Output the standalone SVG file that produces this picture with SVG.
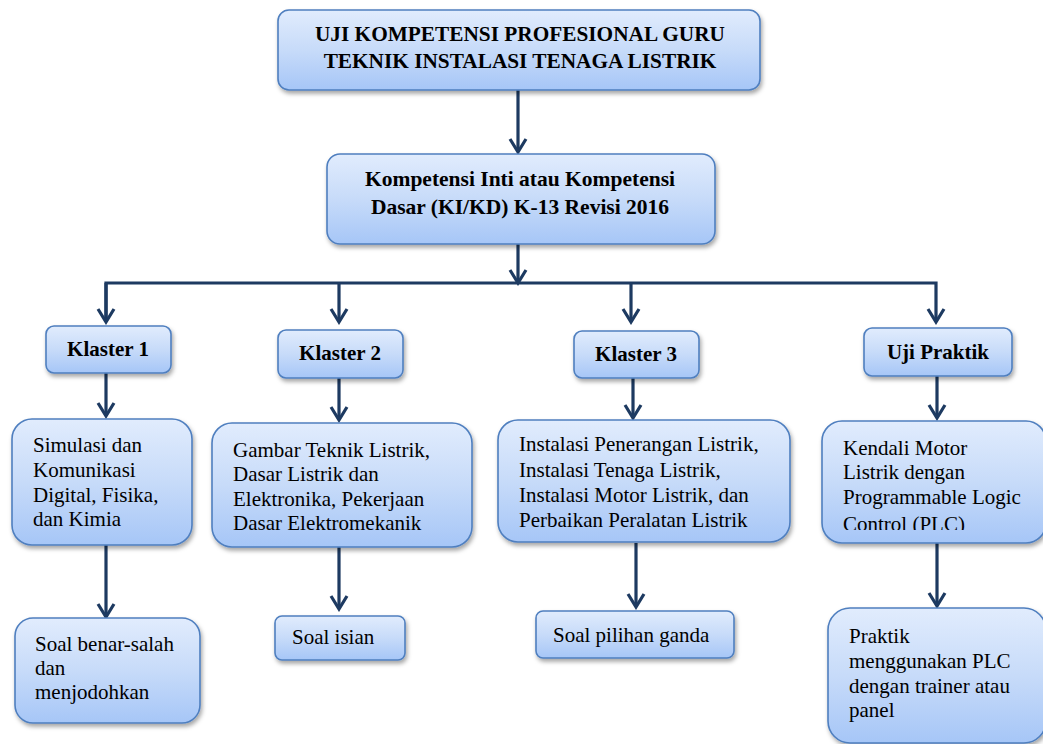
<svg xmlns="http://www.w3.org/2000/svg" width="1043" height="744" viewBox="0 0 1043 744">
<defs>
<linearGradient id="g" x1="0" y1="0" x2="0" y2="1">
<stop offset="0" stop-color="#e1ecfd"/>
<stop offset="0.5" stop-color="#c7dbf9"/>
<stop offset="1" stop-color="#a6c6f7"/>
</linearGradient>
<filter id="sh" x="-10%" y="-10%" width="125%" height="140%">
<feDropShadow dx="1.5" dy="3" stdDeviation="2" flood-color="#000" flood-opacity="0.35"/>
</filter>
<marker id="ah" markerUnits="userSpaceOnUse" viewBox="-2 -11 18 22" refX="13" refY="0" markerWidth="18" markerHeight="22" orient="auto">
<path d="M0,-8 L13,0 L0,8" fill="none" stroke="#1d3a61" stroke-width="3.2" stroke-linejoin="miter"/>
</marker>
<clipPath id="clipPLC"><rect x="821" y="422" width="222" height="108"/></clipPath>
</defs>
<style>
.box{fill:url(#g);stroke:#4f7fbf;stroke-width:1.6;filter:url(#sh)}
.h{font-family:"Liberation Serif","Times New Roman",serif;font-weight:bold;fill:#000;text-anchor:middle}
.t{font-family:"Liberation Serif","Times New Roman",serif;font-size:21px;fill:#000}
.c{fill:none;stroke:#1d3a61;stroke-width:3.2}
</style>
<rect width="1043" height="744" fill="#fff"/>
<g id="connectors">
<line class="c" x1="518" y1="90" x2="518" y2="152" marker-end="url(#ah)"/>
<line class="c" x1="518" y1="244" x2="518" y2="283" marker-end="url(#ah)"/>
<polyline class="c" points="106,322 106,283 936,283 936,322" marker-end="url(#ah)"/>
<line class="c" x1="106" y1="283" x2="106" y2="322" marker-end="url(#ah)"/>
<line class="c" x1="339" y1="283" x2="339" y2="322" marker-end="url(#ah)"/>
<line class="c" x1="631" y1="283" x2="631" y2="322" marker-end="url(#ah)"/>
<line class="c" x1="106" y1="373" x2="106" y2="416" marker-end="url(#ah)"/>
<line class="c" x1="339" y1="378" x2="339" y2="420" marker-end="url(#ah)"/>
<line class="c" x1="633" y1="378" x2="633" y2="418" marker-end="url(#ah)"/>
<line class="c" x1="937" y1="376" x2="937" y2="418" marker-end="url(#ah)"/>
<line class="c" x1="106" y1="545" x2="106" y2="617" marker-end="url(#ah)"/>
<line class="c" x1="339" y1="547" x2="339" y2="609" marker-end="url(#ah)"/>
<line class="c" x1="636" y1="543" x2="636" y2="607" marker-end="url(#ah)"/>
<line class="c" x1="937" y1="543" x2="937" y2="606" marker-end="url(#ah)"/>
</g>
<g id="top">
<rect class="box" x="278" y="10" width="482" height="80" rx="11"/>
<text class="h" font-size="21.3" x="520" y="41">UJI KOMPETENSI PROFESIONAL GURU</text>
<text class="h" font-size="21.3" x="520" y="68">TEKNIK INSTALASI TENAGA LISTRIK</text>
</g>
<g id="kikd">
<rect class="box" x="327" y="154" width="388" height="90" rx="13"/>
<text class="h" font-size="21.5" x="520" y="186">Kompetensi Inti atau Kompetensi</text>
<text class="h" font-size="21.5" x="520" y="214">Dasar (KI/KD) K-13 Revisi 2016</text>
</g>
<g id="klaster1">
<rect class="box" x="46" y="326" width="125" height="47" rx="8"/>
<text class="h" font-size="21" x="108" y="356">Klaster 1</text>
</g>
<g id="klaster2">
<rect class="box" x="278" y="330" width="125" height="48" rx="8"/>
<text class="h" font-size="21" x="340" y="360">Klaster 2</text>
</g>
<g id="klaster3">
<rect class="box" x="574" y="331" width="125" height="47" rx="8"/>
<text class="h" font-size="21" x="636" y="361">Klaster 3</text>
</g>
<g id="ujipraktik">
<rect class="box" x="864" y="328" width="148" height="48" rx="8"/>
<text class="h" font-size="21" x="938" y="359">Uji Praktik</text>
</g>
<g id="k1content">
<rect class="box" x="12" y="419" width="180" height="126" rx="20"/>
<text class="t" x="33" y="452">Simulasi dan</text>
<text class="t" x="33" y="477">Komunikasi</text>
<text class="t" x="33" y="502">Digital, Fisika,</text>
<text class="t" x="33" y="526">dan Kimia</text>
</g>
<g id="k2content">
<rect class="box" x="212" y="423" width="260" height="124" rx="20"/>
<text class="t" x="233" y="457">Gambar Teknik Listrik,</text>
<text class="t" x="233" y="481">Dasar Listrik dan</text>
<text class="t" x="233" y="506">Elektronika, Pekerjaan</text>
<text class="t" x="233" y="530">Dasar Elektromekanik</text>
</g>
<g id="k3content">
<rect class="box" x="498" y="420" width="292" height="122" rx="20"/>
<text class="t" x="519" y="451">Instalasi Penerangan Listrik,</text>
<text class="t" x="519" y="477">Instalasi Tenaga Listrik,</text>
<text class="t" x="519" y="502">Instalasi Motor Listrik, dan</text>
<text class="t" x="519" y="527">Perbaikan Peralatan Listrik</text>
</g>
<g id="ujicontent">
<rect class="box" x="822" y="421" width="224" height="122" rx="20"/>
<g clip-path="url(#clipPLC)">
<text class="t" x="843" y="455">Kendali Motor</text>
<text class="t" x="843" y="479">Listrik dengan</text>
<text class="t" x="843" y="504">Programmable Logic</text>
<text class="t" x="843" y="531">Control (PLC)</text>
</g>
</g>
<g id="soal1">
<rect class="box" x="15" y="618" width="185" height="105" rx="18"/>
<text class="t" x="35" y="651">Soal benar-salah</text>
<text class="t" x="35" y="675">dan</text>
<text class="t" x="35" y="699">menjodohkan</text>
</g>
<g id="soal2">
<rect class="box" x="275" y="616" width="130" height="44" rx="7"/>
<text class="t" x="292" y="644">Soal isian</text>
</g>
<g id="soal3">
<rect class="box" x="536" y="611" width="198" height="47" rx="7"/>
<text class="t" x="553" y="642">Soal pilihan ganda</text>
</g>
<g id="praktik">
<rect class="box" x="828" y="608" width="218" height="135" rx="22"/>
<text class="t" x="849" y="643">Praktik</text>
<text class="t" x="849" y="668">menggunakan PLC</text>
<text class="t" x="849" y="693">dengan trainer atau</text>
<text class="t" x="849" y="717">panel</text>
</g>
</svg>
